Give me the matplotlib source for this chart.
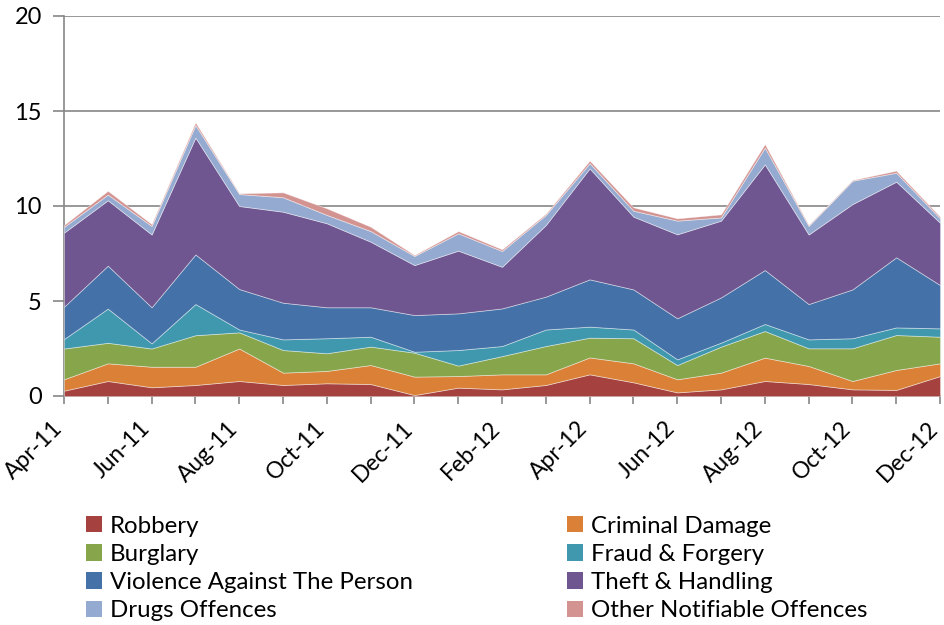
import numpy as np
import matplotlib.pyplot as plt
import matplotlib.transforms as mtransforms
from matplotlib.patches import Patch

months = ['Apr-11', 'May-11', 'Jun-11', 'Jul-11', 'Aug-11', 'Sep-11', 'Oct-11',
          'Nov-11', 'Dec-11', 'Jan-12', 'Feb-12', 'Mar-12', 'Apr-12', 'May-12',
          'Jun-12', 'Jul-12', 'Aug-12', 'Sep-12', 'Oct-12', 'Nov-12', 'Dec-12']

robbery = [0.28, 0.79, 0.46, 0.58, 0.79, 0.58, 0.67, 0.63, 0.05, 0.44, 0.35,
           0.58, 1.14, 0.72, 0.19, 0.35, 0.79, 0.63, 0.35, 0.32, 1.05]
criminal_damage = [0.60, 0.93, 1.08, 0.96, 1.71, 0.65, 0.65, 1.00, 0.97, 0.61, 0.79,
                   0.56, 0.89, 1.00, 0.69, 0.88, 1.23, 0.95, 0.44, 1.05, 0.67]
burglary = [1.62, 1.08, 0.96, 1.66, 0.85, 1.19, 0.93, 0.97, 1.26, 0.55, 0.96,
            1.49, 1.04, 1.32, 0.75, 1.37, 1.40, 0.93, 1.72, 1.84, 1.40]
fraud = [0.50, 1.80, 0.27, 1.64, 0.15, 0.56, 0.79, 0.52, 0.05, 0.82, 0.53,
         0.87, 0.58, 0.46, 0.30, 0.21, 0.37, 0.47, 0.53, 0.40, 0.44]
violence = [1.70, 2.26, 1.90, 2.61, 2.13, 1.93, 1.63, 1.55, 1.93, 1.93, 1.98,
            1.73, 2.49, 2.11, 2.16, 2.38, 2.84, 1.86, 2.57, 3.69, 2.28]
theft = [3.90, 3.44, 3.83, 6.15, 4.37, 4.79, 4.42, 3.45, 2.63, 3.30, 2.19,
         3.77, 5.84, 3.83, 4.42, 4.04, 5.56, 3.66, 4.49, 3.98, 3.28]
drugs = [0.30, 0.30, 0.45, 0.66, 0.63, 0.76, 0.44, 0.56, 0.48, 0.91, 0.83,
         0.53, 0.27, 0.31, 0.72, 0.17, 0.88, 0.45, 1.23, 0.47, 0.23]
other = [0.10, 0.20, 0.10, 0.14, 0.04, 0.26, 0.35, 0.23, 0.05, 0.12, 0.09,
         0.07, 0.14, 0.18, 0.12, 0.16, 0.19, 0.05, 0.04, 0.11, 0.09]

names = ['Robbery', 'Criminal Damage', 'Burglary', 'Fraud & Forgery',
         'Violence Against The Person', 'Theft & Handling', 'Drugs Offences',
         'Other Notifiable Offences']
colors = ['#A5423F', '#DA8137', '#87A54B', '#4098AE', '#4472A8', '#6F5690',
          '#94AAD0', '#D39391']

plt.rcParams['font.family'] = ['Lato', 'DejaVu Sans']

fig = plt.figure(figsize=(9.44, 6.25), dpi=100)
ax = fig.add_axes([0.0678, 0.3664, 0.928, 0.608])

x = np.arange(len(months))
ax.stackplot(x, robbery, criminal_damage, burglary, fraud, violence, theft,
             drugs, other, colors=colors, edgecolor=(1, 1, 1, 0.45),
             linewidth=0.6, zorder=3)

ax.set_xlim(0, len(months) - 1)
ax.set_ylim(0, 20)
ax.set_yticks([0, 5, 10, 15, 20])
ax.grid(axis='y', color='#868686', linewidth=1.2, zorder=0)

for s in ['top', 'right']:
    ax.spines[s].set_visible(False)
for s in ['left', 'bottom']:
    ax.spines[s].set_color('#868686')
    ax.spines[s].set_linewidth(1.2)
ax.tick_params(axis='y', direction='out', length=8, width=1.2, color='#868686',
               labelsize=17, pad=8)
ax.tick_params(axis='x', direction='out', length=6, width=1.2, color='#868686',
               labelsize=16.5, pad=15)

ax.set_xticks(x)
ax.set_xticklabels([m if i % 2 == 0 else '' for i, m in enumerate(months)],
                   rotation=45, ha='right', va='center', rotation_mode='anchor')
# nudge rotated labels left so the last one stays inside the figure
shift = mtransforms.ScaledTranslation(-5 / 100, 0, fig.dpi_scale_trans)
for lab in ax.get_xticklabels():
    lab.set_transform(lab.get_transform() + shift)

# legend filled row by row like the original
order = [0, 2, 4, 6, 1, 3, 5, 7]
handles = [Patch(facecolor=colors[i], label=names[i]) for i in order]
fig.legend(handles=handles, ncol=2, loc='upper left', bbox_to_anchor=(0.091, 0.175),
           frameon=False, fontsize=17.3, handlelength=0.68, handleheight=0.68,
           handletextpad=0.33, labelspacing=0.3, columnspacing=6.4,
           borderpad=0, borderaxespad=0)

fig.savefig('out.png', dpi=100)
